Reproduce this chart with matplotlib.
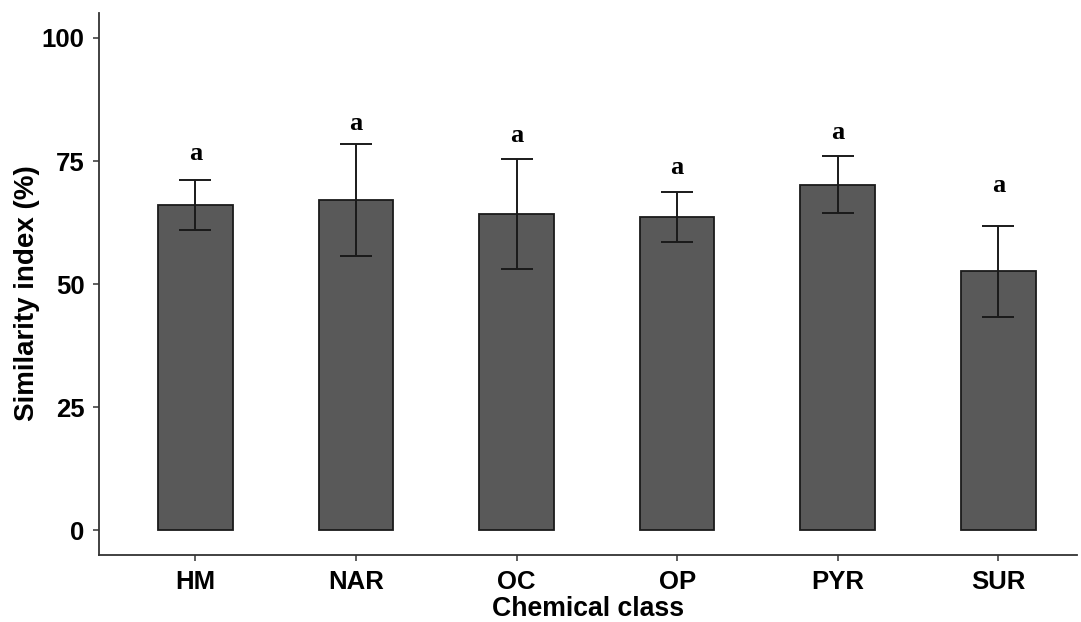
import matplotlib
matplotlib.use("Agg")
import matplotlib.pyplot as plt

# Mean similarity index per chemical class, with error bar half-widths
categories = ["HM", "NAR", "OC", "OP", "PYR", "SUR"]
means = [66.0, 67.1, 64.3, 63.7, 70.2, 52.6]
errors = [5.1, 11.3, 11.2, 5.1, 5.8, 9.3]

# Significance letters and the height of their baselines
letters = ["a", "a", "a", "a", "a", "a"]
letter_y = [75.3, 81.4, 78.9, 72.3, 79.4, 68.7]

yticks = [0, 25, 50, 75, 100]

W, H, DPI = 1081, 622, 100
fig = plt.figure(figsize=(W / DPI, H / DPI), dpi=DPI)
ax = fig.add_axes([99 / W, 1 - 555 / H, (1077 - 99) / W, (555 - 13.3) / H])

x = list(range(1, len(categories) + 1))
ax.bar(x, means, width=0.465, color="#595959", edgecolor="#1a1a1a",
       linewidth=1.3, zorder=2)
ax.errorbar(x, means, yerr=errors, fmt="none", ecolor="#1a1a1a",
            elinewidth=1.4, capsize=11.5, capthick=1.4, zorder=3)

for xi, lab, ly in zip(x, letters, letter_y):
    ax.text(xi, ly, lab, ha="center", va="baseline", fontsize=19,
            fontweight="bold", family="Liberation Serif", color="black")

ax.set_xlim(0.4, 6.49)
ax.set_ylim(-5, 105)
ax.set_xticks(x)
ax.set_xticklabels(categories)
ax.set_yticks(yticks)
ax.set_yticklabels([str(v) for v in yticks])

for side in ("top", "right"):
    ax.spines[side].set_visible(False)
for side in ("left", "bottom"):
    ax.spines[side].set_linewidth(1.3)
    ax.spines[side].set_color("#333333")

ax.tick_params(axis="both", length=4.5, width=1.1, color="#333333",
               labelsize=18.5, pad=6)
for lbl in ax.get_xticklabels() + ax.get_yticklabels():
    lbl.set_fontweight("bold")
    lbl.set_family("Liberation Sans")
    lbl.set_color("black")

ax.set_xlabel("Chemical class", fontsize=19.2, fontweight="bold",
              family="Liberation Sans", labelpad=1.5)
ax.set_ylabel("Similarity index (%)", fontsize=20, fontweight="bold",
              family="Liberation Sans")
ax.yaxis.set_label_coords(-0.060, 0.484)

fig.savefig("out.png", dpi=DPI)
